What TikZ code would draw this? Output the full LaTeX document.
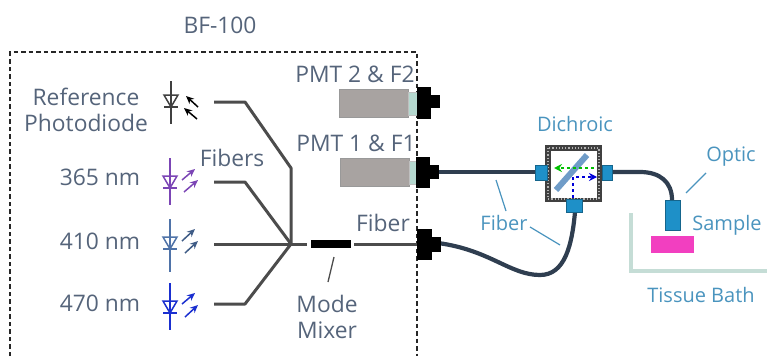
\documentclass[tikz,border=0pt]{standalone}
\usepackage{fontspec}
\setmainfont{Open Sans}
\usetikzlibrary{arrows.meta}
\definecolor{txt}{HTML}{55647A}
\definecolor{lbl}{HTML}{4A94BE}
\definecolor{fib}{HTML}{2F3E50}
\definecolor{portc}{HTML}{1E90C8}
\definecolor{pmtc}{HTML}{A8A3A1}
\definecolor{filt}{HTML}{B5D8CF}
\definecolor{bathc}{HTML}{C5DDD6}
\definecolor{magc}{HTML}{F23FC0}
\definecolor{mirr}{HTML}{6F9CC8}
\definecolor{dviol}{HTML}{7B45B5}
\definecolor{dblue}{HTML}{4F73A8}
\definecolor{dcob}{HTML}{1A2FD0}
\tikzset{
 x=1pt,y=-1pt,
 tl/.style={font=\fontsize{22.8}{26.5}\selectfont,text=txt,inner sep=0pt,align=center},
 bl/.style={font=\fontsize{20}{24}\selectfont,text=lbl,inner sep=0pt},
 fibgray/.style={draw=black!70,line width=3pt},
 fibdark/.style={draw=fib,line width=4.2pt},
 leadb/.style={draw=lbl,line width=1.2pt},
 port/.style={fill=portc,draw=portc!70!black,line width=1pt},
 diodearrow/.style={-{Stealth[length=8pt,width=7pt]},line width=1.5pt},
 pmtbody/.style={fill=pmtc,draw=gray!80,line width=.8pt},
 filterc/.style={fill=filt,draw=gray!50,line width=.5pt}
}
\newcommand{\diode}[5]{%
 \draw[#5,line width=1.5pt] (#1,#2)--(#1,#3);
 \draw[#5,line width=1.5pt] (#1-7,#4)--(#1+7,#4)--(#1,#4+12)--cycle;
 \draw[#5,line width=1.5pt] (#1-7,#4+12)--(#1+7,#4+12);
}
\begin{document}
\begin{tikzpicture}
\useasboundingbox (0,0) rectangle (767,356);
% box
\draw[black!85,line width=1.3pt,dash pattern=on 4.5pt off 3pt] (10,356)--(10,52)--(417,52)--(417,356);
% fibres inside
\coordinate (hub) at (291,244);
\coordinate (mixl) at (307,244);
\draw[fibgray,line join=round] (214,102)--(245,102)--(291,168)--(hub);
\draw[fibgray,line join=round] (214,182)--(245,182)--(hub);
\draw[fibgray] (214,244)--(hub)--(mixl);
\draw[fibgray,line join=round] (214,304)--(245,304)--(hub);
\node[fill=black,minimum width=40pt,minimum height=8pt,inner sep=0pt] (mixer) at (331,244) {};
\coordinate (conin) at (417,244);
\draw[fibgray] (354,244)--(conin);
% diodes
\diode{171}{81}{124}{95}{black!75}
\draw[diodearrow,black] (198,107)--(186,96);
\draw[diodearrow,black] (197,119)--(184,108);
\diode{170}{158}{205}{176}{dviol}
\draw[diodearrow,dviol] (182,180)--(195,169);
\draw[diodearrow,dviol] (184,192)--(198,180);
\diode{170}{219}{272}{237}{dblue}
\draw[diodearrow,dblue!80!black] (182,241)--(195,229);
\draw[diodearrow,dblue!80!black] (185,253)--(198,241);
\diode{170}{283}{330}{301}{dcob}
\draw[diodearrow,dcob] (182,304)--(195,293);
\draw[diodearrow,dcob] (185,317)--(198,305);
% PMTs
\filldraw[pmtbody] (339,89) rectangle (408,117);
\filldraw[filterc] (408,92) rectangle (417,115);
\fill[black] (417,87) rectangle (431,119);
\fill[black] (431,95) rectangle (440,108);
\filldraw[pmtbody] (340,158) rectangle (409,186);
\filldraw[filterc] (409,161) rectangle (417,184);
% fibres outer
\coordinate (pmtout) at (438,172);
\coordinate (dl) at (536,172);
\coordinate (dr) at (612,172);
\coordinate (db) at (575,212);
\coordinate (op) at (672,200);
\coordinate (cout) at (438,243);
\draw[fibdark] (pmtout)--(dl);
\draw[fibdark] (dr)--(640,172) .. controls (660,172) and (672,182) .. (op);
\draw[fibdark] (cout) .. controls (490,250) and (510,275) .. (540,275) .. controls (565,275) and (572,245) .. (db);
% connectors
\fill[black] (416,157) rectangle (430,188);
\fill[black] (430,165) rectangle (439,179);
\fill[black] (417,229) rectangle (432,260);
\fill[black] (432,237) rectangle (441,252);
% dichroic
\fill[black!75] (545,145) rectangle (602,202);
\draw[black!30,line width=1.2pt,dotted] (548,148) rectangle (599,199);
\fill[white] (551,151) rectangle (597,198);
\draw[line width=6pt,draw=mirr] (556,190)--(587,155);
\draw[green!75!black,line width=1.6pt,dashed,-{Stealth[length=8pt,width=8pt]}] (594,168)--(554,168);
\draw[blue!85!black,line width=1.6pt,dashed,-{Stealth[length=8pt,width=8pt]}] (573,198)--(573,177)--(597,177);
\filldraw[port] (535,165) rectangle (547,180);
\filldraw[port] (602,165) rectangle (612,180);
\filldraw[port] (566,199) rectangle (582,212);
% optic and sample
\filldraw[port] (665,200) rectangle (680,230);
\fill[magc] (651,236) rectangle (694,253);
\coordinate (b1) at (631,213);
\coordinate (b2) at (631,271);
\coordinate (b3) at (767,271);
\draw[draw=bathc,line width=3.5pt] (b1)--(b2)--(b3);
% leaders
\coordinate (m1) at (334,257); \coordinate (m2) at (328,282);
\draw[black!70,line width=1.3pt] (m1)--(m2);
\coordinate (o1) at (686,193); \coordinate (o2) at (706,173);
\draw[leadb] (o1)--(o2);
\coordinate (f1) at (496,180); \coordinate (f2) at (506,211);
\coordinate (f3) at (530,227); \coordinate (f4) at (560,245);
\draw[leadb] (f1)--(f2);
\draw[leadb] (f3)--(f4);
% labels
\node[tl] (bf) at (220,25) {BF-100};
\node[tl] (ref) at (86,110) {Reference\\[-1pt]Photodiode};
\node[tl] (n365) at (100,177) {365 nm};
\node[tl] (n410) at (100,241) {410 nm};
\node[tl] (n470) at (100,303) {470 nm};
\node[tl] (fibs) at (232,158) {Fibers};
\node[tl] (pmt2) at (355,74) {PMT 2 \& F2};
\node[tl] (pmt1) at (356,143) {PMT 1 \& F1};
\node[tl] (fibr) at (383,223) {Fiber};
\node[tl] (mode) at (327,317) {Mode\\[-1pt]Mixer};
\node[bl] (dich) at (575,124) {Dichroic};
\node[bl] (opt) at (731,157) {Optic};
\node[bl] (samp) at (727,225) {Sample};
\node[bl] (fb) at (504,223) {Fiber};
\node[bl] (bath) at (701,295) {Tissue Bath};
\end{tikzpicture}
\end{document}
